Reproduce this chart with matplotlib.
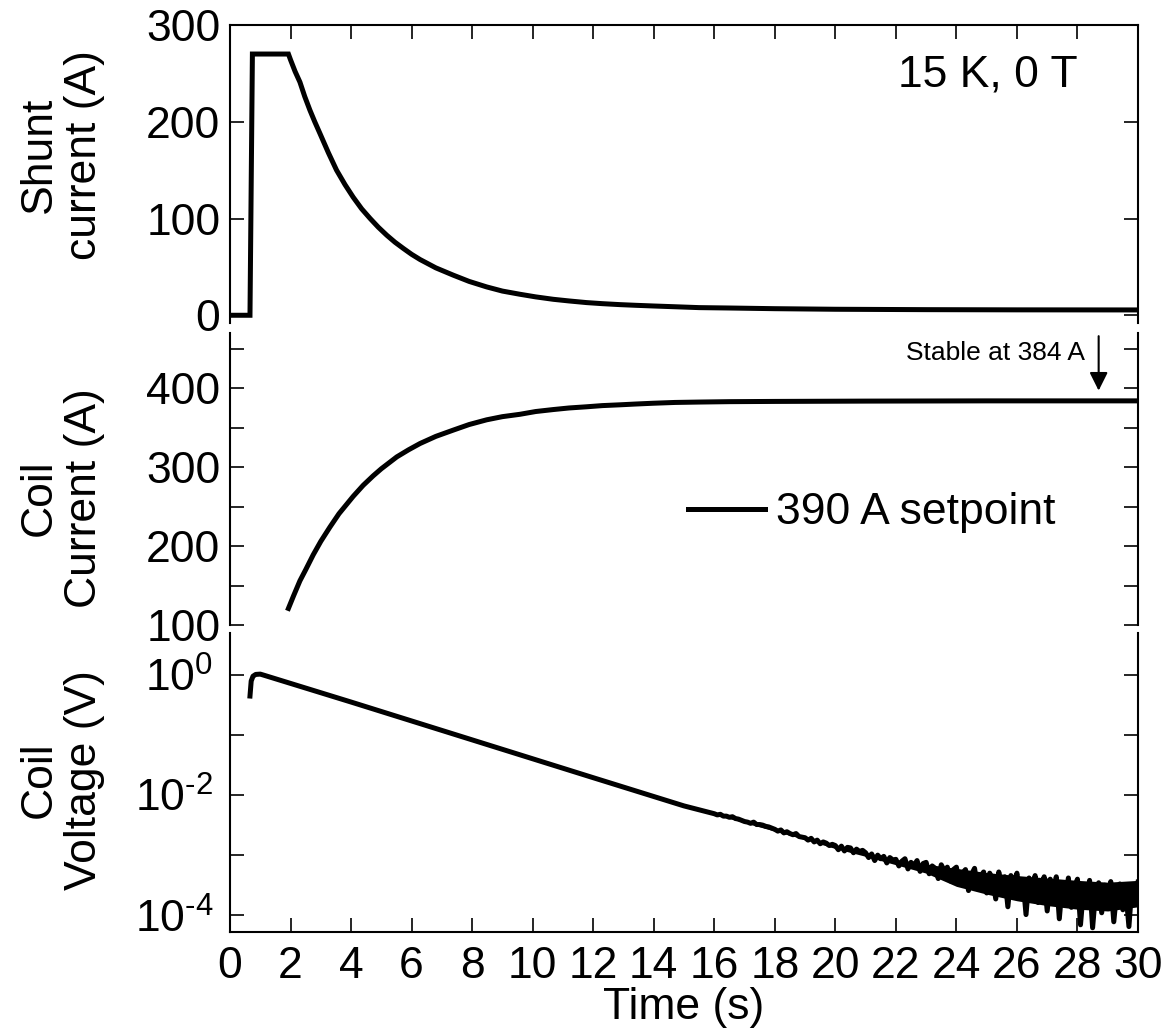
import numpy as np
import matplotlib
matplotlib.use("Agg")
import matplotlib.pyplot as plt
from matplotlib.ticker import MultipleLocator, FixedLocator, FixedFormatter

plt.rcParams['font.family'] = ['Liberation Sans', 'DejaVu Sans']
plt.rcParams['mathtext.fontset'] = 'custom'
plt.rcParams['mathtext.rm'] = 'Liberation Sans'
plt.rcParams['mathtext.default'] = 'regular'
plt.rcParams['axes.unicode_minus'] = False

# shunt current (top panel)
shunt_t = [0.0, 0.66, 0.74, 1.93, 2.00, 2.15, 2.31, 2.47, 2.64, 2.80, 2.97, 3.25,
           3.52, 3.80, 4.07, 4.35, 4.63, 4.90, 5.18, 5.45, 5.73, 6.00, 6.28, 6.80,
           7.38, 7.90, 8.48, 9.00, 9.58, 10.1, 10.68, 11.2, 11.78, 12.3, 12.88,
           13.4, 13.98, 14.7, 15.5, 16.5, 18.0, 20.0, 23.0, 26.0, 30.0]
shunt_i = [0.0, 0.0, 270.0, 270.0, 264.0, 252.0, 241.0, 226.0, 212.0, 200.0, 188.0, 168.0,
           150.0, 135.0, 122.0, 110.0, 100.0, 91.0, 82.7, 75.5, 69.0, 63.0, 57.6, 49.0,
           41.4, 35.0, 29.3, 25.0, 21.7, 19.0, 16.5, 14.8, 13.1, 12.0, 11.0,
           10.3, 9.6, 8.8, 7.9, 7.5, 6.8, 6.2, 5.8, 5.6, 5.5]

# coil current (middle panel)
coil_t = [1.93, 2.10, 2.31, 2.50, 2.75, 3.00, 3.30, 3.60, 4.07, 4.40, 4.73, 5.00,
          5.51, 5.90, 6.28, 6.80, 7.38, 7.90, 8.48, 9.00, 9.58, 10.1, 10.68, 11.2,
          11.78, 12.3, 12.88, 13.4, 13.98, 14.7, 15.5, 16.5, 18.0, 21.0, 25.0, 30.0]
coil_i = [121.0, 137.0, 156.0, 170.0, 189.0, 206.0, 224.0, 241.0, 263.0, 277.0, 289.0, 298.0,
          313.0, 322.0, 330.0, 339.0, 347.0, 354.0, 360.0, 364.0, 367.0, 370.5, 373.0, 375.0,
          376.5, 378.0, 379.0, 380.0, 381.0, 382.0, 382.5, 383.0, 383.3, 383.7, 384.0, 384.0]

# coil voltage (bottom panel), log10 of volts
coil_v_t = [0.66, 0.70, 0.76, 0.85, 1.0, 1.1, 4.0, 8.0, 12.0, 15.0]
coil_v_log10 = [-0.35, -0.10, -0.02, 0.01, 0.015, 0.0, -0.45, -1.08, -1.71, -2.18]

# noisy tail, one reading every 0.1 s from 16 s to 30 s
coil_v_noise_log10 = [
    -2.31, -2.33, -2.32, -2.35, -2.35, -2.37, -2.36, -2.39, -2.40, -2.42,
    -2.44, -2.45, -2.47, -2.45, -2.49, -2.49, -2.50, -2.52, -2.53, -2.55,
    -2.57, -2.60, -2.58, -2.63, -2.61, -2.64, -2.66, -2.64, -2.69, -2.70,
    -2.71, -2.75, -2.72, -2.78, -2.75, -2.81, -2.78, -2.80, -2.84, -2.82,
    -2.84, -2.91, -2.85, -2.93, -2.87, -2.88, -2.96, -2.90, -2.94, -2.92,
    -2.96, -3.04, -2.98, -3.09, -3.00, -3.06, -3.02, -3.13, -3.04, -3.08,
    -3.07, -3.18, -3.10, -3.06, -3.23, -3.12, -3.17, -3.09, -3.27, -3.14,
    -3.12, -3.31, -3.18, -3.22, -3.39, -3.16, -3.26, -3.20, -3.43, -3.24,
    -3.20, -3.49, -3.30, -3.24, -3.59, -3.32, -3.22, -3.56, -3.35, -3.28,
    -3.63, -3.30, -3.41, -3.73, -3.28, -3.53, -3.36, -3.86, -3.34, -3.46,
    -3.30, -3.71, -3.42, -3.99, -3.38, -3.61, -3.34, -3.79, -3.51, -3.36,
    -3.93, -3.40, -3.63, -3.36, -4.06, -3.48, -3.71, -3.38, -3.87, -3.52,
    -3.40, -4.16, -3.56, -3.79, -3.42, -4.21, -3.61, -3.46, -3.96, -3.50,
    -3.83, -3.44, -4.11, -3.58, -3.48, -3.91, -3.62, -4.19, -3.50, -3.73,
    -3.45,
]
noise_t0, noise_t1 = 16.0, 30.0

# upper / lower edge of the dense noise band (log10 V), 1 s apart
band_t = [16, 17, 18, 19, 20, 21, 22, 23, 24, 25, 26, 27, 28, 29, 30]
band_hi = [-2.30, -2.43, -2.56, -2.70, -2.83, -2.95, -3.07, -3.15, -3.22, -3.29,
           -3.34, -3.38, -3.42, -3.45, -3.42]
band_lo = [-2.32, -2.46, -2.60, -2.74, -2.89, -3.02, -3.16, -3.30, -3.52, -3.65,
           -3.76, -3.84, -3.90, -3.93, -3.86]

time_ticks = list(range(0, 31, 2))

FS = 32
LW = 3.6

fig = plt.figure(figsize=(11.66, 10.36), dpi=100)
left, width = 0.19726, 0.77873
ax1 = fig.add_axes([left, 0.68822, width, 0.28764])
ax2 = fig.add_axes([left, 0.39672, width, 0.28185])
ax3 = fig.add_axes([left, 0.10039, width, 0.28861])

for ax in (ax1, ax2, ax3):
    ax.set_xlim(0, 30)
    for s in ax.spines.values():
        s.set_linewidth(1.5)
    ax.tick_params(which='both', direction='in', length=10, width=1.2,
                   labelsize=FS, pad=7, left=True, right=True)
    ax.xaxis.set_major_locator(FixedLocator(time_ticks))

# top panel
ax1.plot(shunt_t, shunt_i, color='k', lw=LW, solid_joinstyle='miter')
ax1.set_ylim(-8, 300)
ax1.set_yticks([0, 100, 200, 300])
ax1.spines['bottom'].set_visible(False)
ax1.tick_params(axis='x', which='both', bottom=False, top=True, labelbottom=False)
ax1.text(0.934, 0.832, '15 K, 0 T', transform=ax1.transAxes, ha='right',
         va='center', fontsize=FS)
ax1.set_ylabel('Shunt\ncurrent (A)', fontsize=FS, va='center', linespacing=1.15)
ax1.yaxis.set_label_coords(-0.185, 0.564)

# middle panel
ax2.plot(coil_t, coil_i, color='k', lw=LW, label='390 A setpoint')
ax2.set_ylim(100, 470)
ax2.set_yticks([100, 200, 300, 400])
ax2.yaxis.set_minor_locator(MultipleLocator(50))
ax2.spines['bottom'].set_visible(False)
ax2.spines['top'].set_visible(False)
ax2.tick_params(axis='x', which='both', bottom=False, top=False, labelbottom=False)
ax2.legend(loc='center left', bbox_to_anchor=(0.504, 0.384), frameon=False,
           fontsize=FS, handlelength=1.73, handletextpad=0.25,
           borderpad=0, borderaxespad=0)
ax2.annotate('', xy=(28.7, 397), xytext=(28.7, 466),
             arrowprops=dict(arrowstyle='-|>,head_length=1.1,head_width=0.55',
                             mutation_scale=10, lw=1.5, color='k',
                             shrinkA=0, shrinkB=0))
ax2.text(28.25, 445, 'Stable at 384 A', ha='right', va='center', fontsize=19)
ax2.set_ylabel('Coil\nCurrent (A)', fontsize=FS, va='center', linespacing=1.15)
ax2.yaxis.set_label_coords(-0.185, 0.435)

# bottom panel
v_smooth = 10.0 ** np.array(coil_v_log10)
noise_t = np.linspace(noise_t0, noise_t1, len(coil_v_noise_log10))
v_noise = 10.0 ** np.array(coil_v_noise_log10)
ax3.fill_between(band_t, 10.0 ** np.array(band_lo), 10.0 ** np.array(band_hi),
                 color='k', lw=0)
ax3.plot(np.concatenate([coil_v_t, noise_t]), np.concatenate([v_smooth, v_noise]),
         color='k', lw=LW)
ax3.set_yscale('log')
ax3.set_ylim(10 ** -4.28, 10 ** 0.7)
ax3.yaxis.set_major_locator(FixedLocator([1e-4, 1e-3, 1e-2, 1e-1, 1.0]))
ax3.yaxis.set_major_formatter(FixedFormatter(
    [r'$10^{\text{-4}}$', '', r'$10^{\text{-2}}$', '', r'$10^{0}$']))
ax3.yaxis.set_minor_locator(FixedLocator([]))
ax3.tick_params(axis='y', pad=12)
ax3.spines['top'].set_visible(False)
ax3.tick_params(axis='x', which='both', bottom=True, top=False, labelbottom=True, pad=10)
ax3.set_xticklabels([str(t) for t in time_ticks])
ax3.set_xlabel('Time (s)', fontsize=FS, labelpad=0)
ax3.set_ylabel('Coil\nVoltage (V)', fontsize=FS, va='center', linespacing=1.15)
ax3.yaxis.set_label_coords(-0.185, 0.508)

fig.savefig('out.png', dpi=100)
